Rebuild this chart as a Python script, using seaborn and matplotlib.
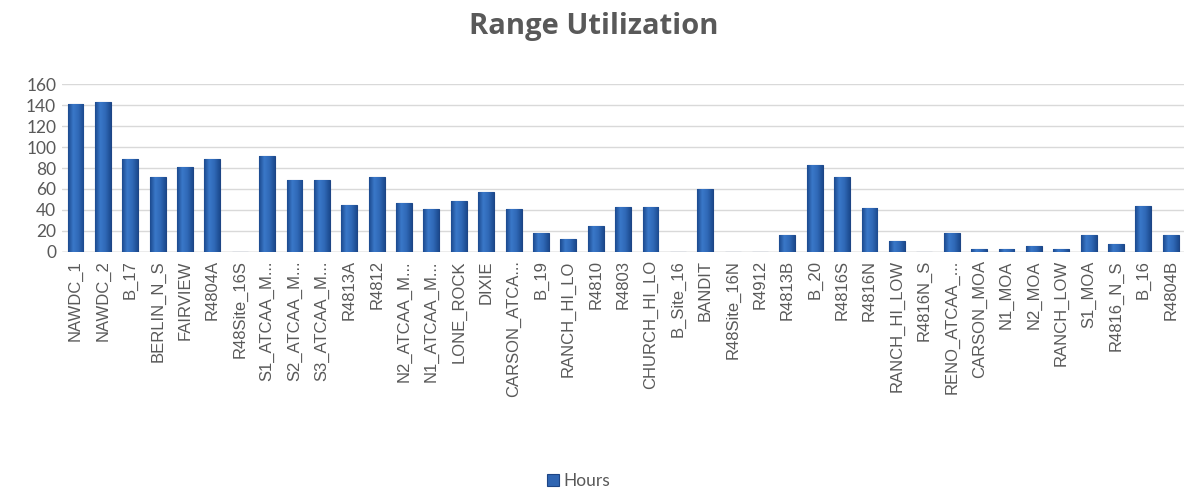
import matplotlib
matplotlib.use("Agg")
import matplotlib.pyplot as plt
from matplotlib.colors import LinearSegmentedColormap
import numpy as np
import seaborn as sns
import pandas as pd

ranges = [
    "NAWDC_1", "NAWDC_2", "B_17", "BERLIN_N_S", "FAIRVIEW", "R4804A",
    "R48Site_16S", "S1_ATCAA_M...", "S2_ATCAA_M...", "S3_ATCAA_M...",
    "R4813A", "R4812", "N2_ATCAA_M...", "N1_ATCAA_M...", "LONE_ROCK",
    "DIXIE", "CARSON_ATCA...", "B_19", "RANCH_HI_LO", "R4810", "R4803",
    "CHURCH_HI_LO", "B_Site_16", "BANDIT", "R48Site_16N", "R4912",
    "R4813B", "B_20", "R4816S", "R4816N", "RANCH_HI_LOW", "R4816N_S",
    "RENO_ATCAA_...", "CARSON_MOA", "N1_MOA", "N2_MOA", "RANCH_LOW",
    "S1_MOA", "R4816_N_S", "B_16", "R4804B",
]
hours = [
    141, 143, 89, 71, 81, 89,
    0, 91, 69, 69,
    45, 71, 47, 41, 49,
    57, 41, 18, 12, 25, 43,
    43, 0, 60, 0, 0,
    16, 83, 71, 42, 10, 0,
    18, 3, 3, 6, 3,
    16, 8, 44, 16,
]
y_ticks = [0, 20, 40, 60, 80, 100, 120, 140, 160]

df = pd.DataFrame({"Range": ranges, "Hours": hours})

sns.set_theme(style="white")
plt.rcParams["font.family"] = ["Liberation Sans", "DejaVu Sans"]

fig = plt.figure(figsize=(11.88, 4.92), dpi=100)
ax = fig.add_axes([0.052, 0.488, 0.945, 0.341])

sns.barplot(data=df, x="Range", y="Hours", color="#2f65b2", width=0.58,
            saturation=1, edgecolor="#1d4585", linewidth=0.8,
            label="Hours", ax=ax, zorder=3)

ax.set_ylim(0, 160)
ax.set_xlim(-0.5, len(ranges) - 0.5)

# Shade each bar with a darker-edged horizontal gradient
shade = LinearSegmentedColormap.from_list(
    "bar_shade", ["#1c4a8e", "#3a78c9", "#2f68b6", "#1c4a8e"])
grad = np.linspace(0, 1, 64).reshape(1, -1)
for patch in list(ax.patches):
    h = patch.get_height()
    if h <= 0:
        continue
    x0, w = patch.get_x(), patch.get_width()
    im = ax.imshow(grad, cmap=shade, aspect="auto", zorder=3.5,
                   extent=(x0, x0 + w, 0, h), interpolation="bilinear")
    im.set_clip_path(patch)
ax.set_xlim(-0.5, len(ranges) - 0.5)
ax.set_ylim(0, 160)

ax.set_yticks(y_ticks)
ax.set_yticklabels([str(t) for t in y_ticks], fontsize=12.5, color="#595959",
                   family=["Lato", "DejaVu Sans"])
ax.tick_params(axis="y", length=0, pad=4)
ax.tick_params(axis="x", length=0, pad=6)
ax.set_xticks(range(len(ranges)))
ax.set_xticklabels(ranges, rotation=90, fontsize=12, color="#595959")
ax.set_xlabel("")
ax.set_ylabel("")
ax.yaxis.grid(True, color="#d9d9d9", linewidth=1, zorder=0)
for s in ["top", "right", "left", "bottom"]:
    ax.spines[s].set_visible(False)
ax.axhline(0, color="#bfbfbf", linewidth=1, zorder=2)
if ax.legend_:
    ax.legend_.remove()

fig.suptitle("Range Utilization", x=0.5, y=0.975, fontsize=21,
             fontweight="bold", color="#595959",
             family=["Open Sans", "DejaVu Sans"])

handles, labels = ax.get_legend_handles_labels()
fig.legend(handles[:1], ["Hours"], loc="center", bbox_to_anchor=(0.487, 0.022),
           frameon=False, handlelength=0.7, handleheight=0.7,
           handletextpad=0.3, prop={"family": ["Lato", "DejaVu Sans"], "size": 12.5},
           labelcolor="#595959")

fig.savefig("out.png", dpi=100)
